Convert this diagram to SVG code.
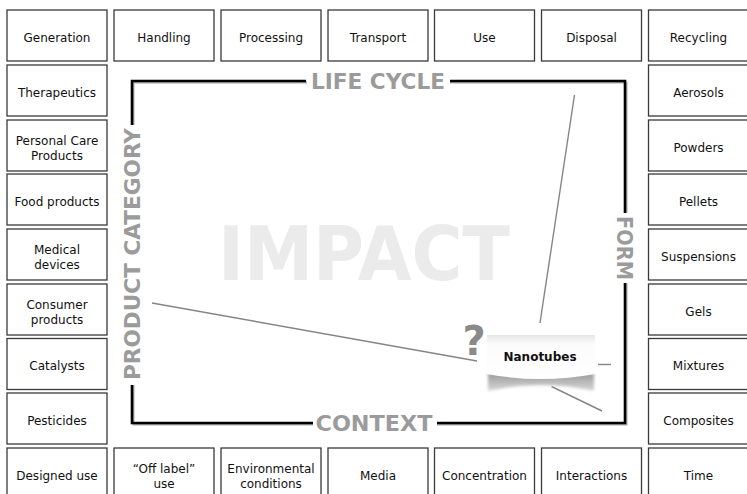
<svg xmlns="http://www.w3.org/2000/svg" width="747" height="494" viewBox="0 0 747 494">
<defs>
<style>
.box rect{fill:#fff;stroke:#3a3a3a;stroke-width:1.3}
.box text{font-family:"DejaVu Sans",Verdana,sans-serif;font-size:12px;fill:#111;text-anchor:middle}
.lbl{font-family:"DejaVu Sans",Verdana,sans-serif;font-weight:bold;font-size:21px;fill:#9b9b9b;text-anchor:middle}
.frame{fill:none;stroke:#000;stroke-width:2.6}
.frameshadow{fill:none;stroke:#aaa;stroke-width:2}
.conn line{stroke:#858585;stroke-width:1.4}
</style>
<linearGradient id="face" x1="0" y1="0" x2="0" y2="1">
<stop offset="0" stop-color="#e6e6e6"/>
<stop offset="0.2" stop-color="#fbfbfb"/>
<stop offset="1" stop-color="#ffffff"/>
</linearGradient>
<linearGradient id="curl" x1="0" y1="0" x2="0" y2="1">
<stop offset="0" stop-color="#9a9a9a"/>
<stop offset="1" stop-color="#d8d8d8"/>
</linearGradient>
<filter id="blur" x="-10%" y="-50%" width="120%" height="200%"><feGaussianBlur stdDeviation="1.6"/></filter>
</defs>

<text x="364" y="280" font-family="DejaVu Sans,Verdana,sans-serif" font-weight="bold" font-size="74" fill="#ebebeb" text-anchor="middle" textLength="292" lengthAdjust="spacingAndGlyphs">IMPACT</text>

<g id="frame-group">
<path class="frameshadow" d="M307,82.5 H133.5 V125"/>
<path class="frameshadow" d="M133.5,385 V424.5 H313"/>
<path class="frameshadow" d="M450,82.5 H626.5 V213"/>
<path class="frameshadow" d="M626.5,283 V424.5 H437"/>
<path class="frame" d="M306,81 H132 V125"/>
<path class="frame" d="M132,385 V423 H313"/>
<path class="frame" d="M450,81 H625 V213"/>
<path class="frame" d="M625,283 V423 H437"/>
<text class="lbl" x="378" y="89" textLength="134" lengthAdjust="spacingAndGlyphs">LIFE CYCLE</text>
<text class="lbl" x="374" y="431" textLength="117" lengthAdjust="spacingAndGlyphs">CONTEXT</text>
<text class="lbl" transform="translate(140,254) rotate(-90)" textLength="252" lengthAdjust="spacingAndGlyphs">PRODUCT CATEGORY</text>
<text class="lbl" transform="translate(617,248) rotate(90)" textLength="64" lengthAdjust="spacingAndGlyphs">FORM</text>
</g>

<g id="connectors" class="conn">
<line x1="152" y1="303" x2="477" y2="361"/>
<line x1="574.5" y1="95" x2="540" y2="323"/>
<line x1="598" y1="364.5" x2="611" y2="364.5"/>
<line x1="551.5" y1="386.5" x2="602" y2="411"/>
</g>

<g id="nanotubes">
<path d="M488,373 L594,373 L594,391 Q541,379 488,391 Z" fill="url(#curl)" filter="url(#blur)"/>
<path d="M487,335 H595 V374 Q541,384 487,374 Z" fill="url(#face)"/>
<text x="540" y="361" font-family="DejaVu Sans,Verdana,sans-serif" font-weight="bold" font-size="12" fill="#111" text-anchor="middle">Nanotubes</text>
<text x="474" y="355" font-family="DejaVu Sans,Verdana,sans-serif" font-weight="bold" font-size="40" fill="#8a8a8a" text-anchor="middle">?</text>
</g>

<g id="generation" class="box"><rect x="7" y="10" width="100" height="51"/><text x="57" y="41.5">Generation</text></g>
<g id="handling" class="box"><rect x="114" y="10" width="100" height="51"/><text x="164" y="41.5">Handling</text></g>
<g id="processing" class="box"><rect x="221" y="10" width="100" height="51"/><text x="271" y="41.5">Processing</text></g>
<g id="transport" class="box"><rect x="328" y="10" width="100" height="51"/><text x="378" y="41.5">Transport</text></g>
<g id="use" class="box"><rect x="434.5" y="10" width="100" height="51"/><text x="484.5" y="41.5">Use</text></g>
<g id="disposal" class="box"><rect x="541.5" y="10" width="100" height="51"/><text x="591.5" y="41.5">Disposal</text></g>
<g id="recycling" class="box"><rect x="648.5" y="10" width="100" height="51"/><text x="698.5" y="41.5">Recycling</text></g>

<g id="therapeutics" class="box"><rect x="7" y="65" width="100" height="51"/><text x="57" y="96.5">Therapeutics</text></g>
<g id="personal-care" class="box"><rect x="7" y="120" width="100" height="51"/><text x="57" y="144.5">Personal Care</text><text x="57" y="159.5">Products</text></g>
<g id="food-products" class="box"><rect x="7" y="174" width="100" height="51"/><text x="57" y="205.5">Food products</text></g>
<g id="medical-devices" class="box"><rect x="7" y="229" width="100" height="51"/><text x="57" y="253.5">Medical</text><text x="57" y="268.5">devices</text></g>
<g id="consumer-products" class="box"><rect x="7" y="284" width="100" height="51"/><text x="57" y="308.5">Consumer</text><text x="57" y="323.5">products</text></g>
<g id="catalysts" class="box"><rect x="7" y="338.5" width="100" height="51"/><text x="57" y="370">Catalysts</text></g>
<g id="pesticides" class="box"><rect x="7" y="393" width="100" height="51"/><text x="57" y="424.5">Pesticides</text></g>

<g id="aerosols" class="box"><rect x="648.5" y="65" width="100" height="51"/><text x="698.5" y="96.5">Aerosols</text></g>
<g id="powders" class="box"><rect x="648.5" y="120" width="100" height="51"/><text x="698.5" y="151.5">Powders</text></g>
<g id="pellets" class="box"><rect x="648.5" y="174" width="100" height="51"/><text x="698.5" y="205.5">Pellets</text></g>
<g id="suspensions" class="box"><rect x="648.5" y="229" width="100" height="51"/><text x="698.5" y="260.5">Suspensions</text></g>
<g id="gels" class="box"><rect x="648.5" y="284" width="100" height="51"/><text x="698.5" y="315.5">Gels</text></g>
<g id="mixtures" class="box"><rect x="648.5" y="338.5" width="100" height="51"/><text x="698.5" y="370">Mixtures</text></g>
<g id="composites" class="box"><rect x="648.5" y="393" width="100" height="51"/><text x="698.5" y="424.5">Composites</text></g>

<g id="designed-use" class="box"><rect x="7" y="448" width="100" height="51"/><text x="57" y="479.5">Designed use</text></g>
<g id="off-label-use" class="box"><rect x="114" y="448" width="100" height="51"/><text x="164" y="472.5">“Off label”</text><text x="164" y="487.5">use</text></g>
<g id="environmental-conditions" class="box"><rect x="221" y="448" width="100" height="51"/><text x="271" y="472.5">Environmental</text><text x="271" y="487.5">conditions</text></g>
<g id="media" class="box"><rect x="328" y="448" width="100" height="51"/><text x="378" y="479.5">Media</text></g>
<g id="concentration" class="box"><rect x="434.5" y="448" width="100" height="51"/><text x="484.5" y="479.5">Concentration</text></g>
<g id="interactions" class="box"><rect x="541.5" y="448" width="100" height="51"/><text x="591.5" y="479.5">Interactions</text></g>
<g id="time" class="box"><rect x="648.5" y="448" width="100" height="51"/><text x="698.5" y="479.5">Time</text></g>
</svg>
